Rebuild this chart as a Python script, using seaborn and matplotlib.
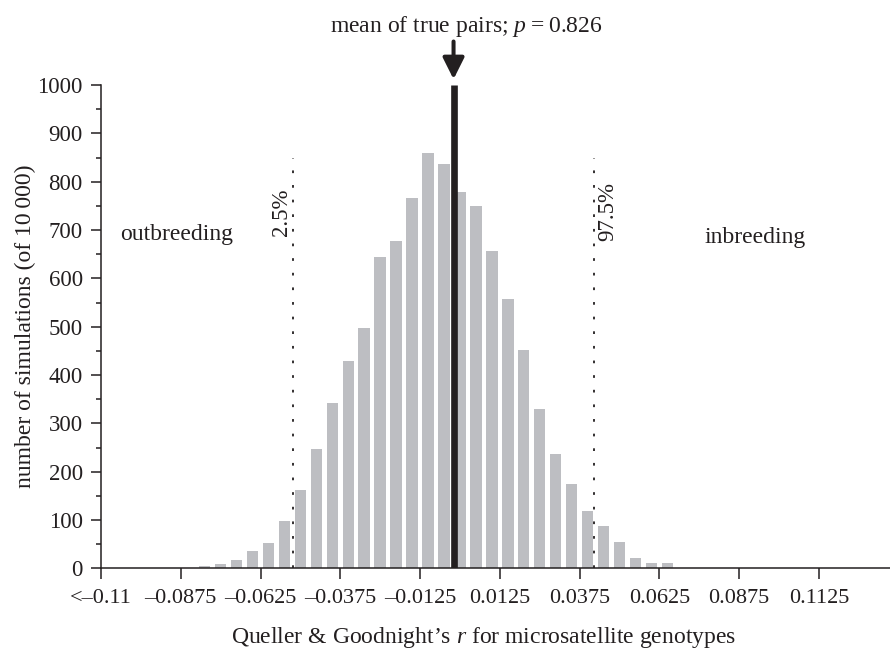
import numpy as np
import pandas as pd
import matplotlib
matplotlib.use("Agg")
import matplotlib.pyplot as plt
from matplotlib.ticker import FixedLocator, MultipleLocator
import seaborn as sns

# ---- data ----
bin_centers = [-0.080, -0.075, -0.070, -0.065, -0.060, -0.055, -0.050, -0.045,
               -0.040, -0.035, -0.030, -0.025, -0.020, -0.015, -0.010, -0.005,
               0.000, 0.005, 0.010, 0.015, 0.020, 0.025, 0.030, 0.035,
               0.040, 0.045, 0.050, 0.055, 0.060, 0.065]
counts = [5, 10, 17, 35, 52, 99, 162, 246,
          343, 430, 497, 644, 677, 766, 860, 837,
          779, 750, 656, 557, 452, 329, 236, 174,
          119, 88, 54, 21, 12, 11]
true_mean = -0.002
ci_low = -0.0522
ci_high = 0.0421
tick_values = [-0.1125, -0.0875, -0.0625, -0.0375, -0.0125,
               0.0125, 0.0375, 0.0625, 0.0875, 0.1125]
tick_labels = ["<\u20130.11", "\u20130.0875", "\u20130.0625", "\u20130.0375",
               "\u20130.0125", "0.0125", "0.0375", "0.0625", "0.0875", "0.1125"]
ci_labels = ["2.5%", "97.5%"]
region_labels = ["outbreeding", "inbreeding"]

# ---- style ----
sns.set_style("ticks")
plt.rcParams["font.family"] = ["Liberation Serif", "DejaVu Serif"]
plt.rcParams["mathtext.fontset"] = "custom"
plt.rcParams["mathtext.rm"] = "Liberation Serif"
plt.rcParams["mathtext.it"] = "Liberation Serif:italic"
ink = "#231f20"
plt.rcParams["text.color"] = ink
plt.rcParams["axes.labelcolor"] = ink
plt.rcParams["xtick.color"] = ink
plt.rcParams["ytick.color"] = ink

fig = plt.figure(figsize=(8.9, 6.5), dpi=100)
ax = fig.add_axes([101 / 890, 1 - 568.4 / 650, 789 / 890, 483.4 / 650])

df = pd.DataFrame({"r": bin_centers, "n": counts})
sns.barplot(data=df, x="r", y="n", native_scale=True, width=0.72,
            color="#bdbec2", saturation=1, edgecolor="none", ax=ax)

# mean of true pairs
ax.vlines(true_mean, 0, 1000, color=ink, lw=4.8, zorder=5)
# confidence limits
for xv in (ci_low, ci_high):
    ax.vlines(xv, 0, 850, color=ink, lw=1.3, linestyles=[(0, (1.5, 6.6))], zorder=4)

ax.set_xlim(-0.1125, 0.1348)
ax.set_ylim(0, 1000)

ax.xaxis.set_major_locator(FixedLocator(tick_values))
ax.set_xticklabels(tick_labels)
ax.yaxis.set_major_locator(MultipleLocator(100))
ax.yaxis.set_minor_locator(MultipleLocator(50))
ax.tick_params(axis="x", which="major", length=8, width=1.1, labelsize=16, pad=6.5, direction="out")
ax.tick_params(axis="y", which="major", length=7.2, width=1.1, labelsize=16.5, pad=6, direction="out")
ax.tick_params(axis="y", which="minor", length=3.6, width=1.1, direction="out")
for s in ("top", "right"):
    ax.spines[s].set_visible(False)
for s in ("left", "bottom"):
    ax.spines[s].set_linewidth(1.1)
    ax.spines[s].set_color(ink)

ax.set_ylabel("number of simulations (of 10\u2009000)", fontsize=17)
ax.yaxis.label.set_va("center")
ax.yaxis.set_label_coords(-0.0963, 0.5)
ax.set_xlabel("Queller & Goodnight\u2019s $r$ for microsatellite genotypes", fontsize=17)
ax.xaxis.label.set_va("baseline")
ax.xaxis.set_label_coords(0.4854, -0.1543)

ax.text(-0.1065, 679, region_labels[0], fontsize=17, ha="left", va="baseline")
ax.text(0.0768, 673, region_labels[1], fontsize=17, ha="left", va="baseline")
ax.text(-0.0558, 737, ci_labels[0], fontsize=16.5, rotation=90, ha="center", va="center")
ax.text(0.0464, 738, ci_labels[1], fontsize=16.5, rotation=90, ha="center", va="center")

ax.annotate("", xy=(true_mean, 1012), xytext=(true_mean, 1090),
            arrowprops=dict(arrowstyle="-|>,head_length=13,head_width=6.5",
                            mutation_scale=1, lw=2.9, color=ink,
                            shrinkA=0, shrinkB=0),
            annotation_clip=False)
fig.text(466 / 890, 1 - 31.7 / 650, "mean of true pairs; $p$\u2009=\u20090.826",
         fontsize=17, ha="center", va="baseline")

fig.savefig("out.png", dpi=100)
